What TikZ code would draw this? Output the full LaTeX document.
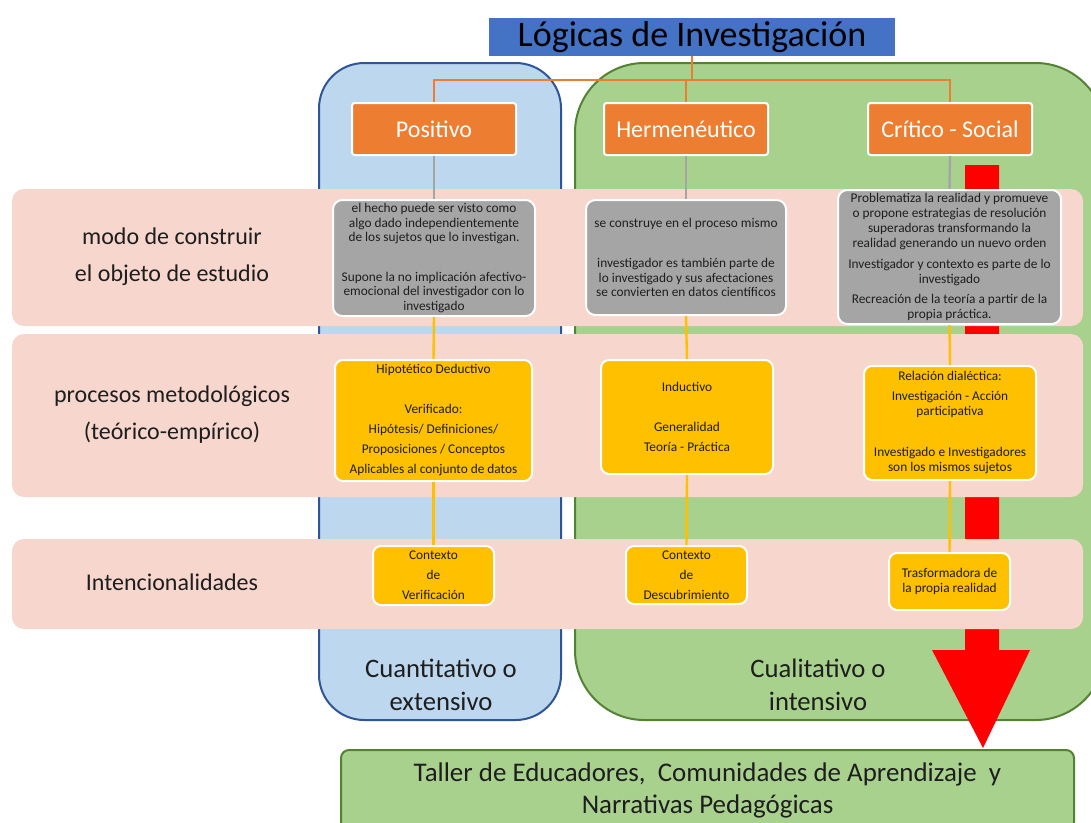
\documentclass[tikz,border=0pt]{standalone}
\usepackage{fontspec}
\setmainfont{Carlito}
\definecolor{blueFill}{HTML}{BDD7EE}
\definecolor{blueLine}{HTML}{2F5597}
\definecolor{greenFill}{HTML}{A9D18E}
\definecolor{greenLine}{HTML}{548235}
\definecolor{pinkC}{HTML}{F7D7CD}
\definecolor{orangeC}{HTML}{ED7D31}
\definecolor{grayC}{HTML}{A5A5A5}
\definecolor{yellowC}{HTML}{FFC000}
\definecolor{titleC}{HTML}{4472C4}
\definecolor{textC}{HTML}{1E1E1E}
\tikzset{
  obox/.style={draw=white, line width=1.5pt, fill=orangeC, rounded corners=2pt,
    minimum width=123pt, minimum height=39pt, inner sep=0pt, text=white,
    font=\fontsize{18}{22}\selectfont},
  gbox/.style={draw=white, line width=1.5pt, fill=grayC, rounded corners=7pt,
    align=center, inner sep=0pt, text=textC, font=\fontsize{10}{10.9}\selectfont},
  ybox/.style={draw=white, line width=1.5pt, fill=yellowC, rounded corners=6pt,
    align=center, inner sep=0pt, text=textC, font=\fontsize{10}{15}\selectfont},
  band/.style={fill=pinkC, rounded corners=9pt},
  bigtext/.style={align=center, text=textC, font=\fontsize{20}{24.75}\selectfont},
  lefttext/.style={align=center, text=textC, font=\fontsize{18}{27.75}\selectfont},
  oline/.style={draw=orangeC, line width=1.9pt},
  gline/.style={draw=grayC, line width=1.8pt},
  yline/.style={draw=yellowC, line width=1.8pt},
}
\begin{document}
\begin{tikzpicture}[x=0.75pt,y=-0.75pt]
\useasboundingbox (0,0) rectangle (1091,822);
\clip (0,0) rectangle (1091,822);
% containers
\draw[fill=blueFill, draw=blueLine, line width=1.5pt, rounded corners=34pt] (319,63) rectangle (561,720);
\draw[fill=greenFill, draw=greenLine, line width=1.5pt, rounded corners=52pt] (575,63) rectangle (1105,720);
% red arrow
\fill[red] (965,165) -- (999,165) -- (999,650) -- (1030,650) -- (983,748) -- (932,650) -- (965,650) -- cycle;
% bands
\fill[band] (12,189) rectangle (1083,326);
\fill[band] (12,334) rectangle (1083,497);
\fill[band] (12,539) rectangle (1083,629);
% left labels
\node[lefttext] (l1) at (172,256.5) {modo de construir\\el objeto de estudio};
\node[lefttext] (l2) at (172,415) {procesos metodológicos\\(teórico-empírico)};
\node[lefttext] (l3) at (172,582) {Intencionalidades};
% container labels
\node[bigtext] (cuan) at (441,684.5) {Cuantitativo o\\extensivo};
\node[bigtext] (cual) at (818,684.5) {Cualitativo o\\intensivo};
% title
\node[fill=titleC, minimum width=304.5pt, minimum height=28.5pt, inner sep=0pt,
  text=black, font=\fontsize{27}{30}\selectfont] (title) at (692,37) {Lógicas de Investigación};
% orange boxes
\node[obox] (pos) at (434,129) {Positivo};
\node[obox] (herm) at (686,129) {Hermenéutico};
\node[obox] (crit) at (950,129) {Crítico - Social};
% gray boxes
\node[gbox, minimum width=151.5pt, minimum height=87pt] (g1) at (434,258)
  {el hecho puede ser visto como\\algo dado independientemente\\de los sujetos que lo investigan.\\[18.4pt]
   Supone la no implicación afectivo-\\emocional del investigador con lo\\investigado};
\node[gbox, minimum width=150pt, minimum height=86.25pt] (g2) at (686,257.5)
  {se construye en el proceso mismo\\[19pt]
   investigador es también parte de\\lo investigado y sus afectaciones\\se convierten en datos científicos};
\node[gbox, minimum width=167.25pt, minimum height=100.5pt, font=\fontsize{10}{11.25}\selectfont] (g3) at (949.5,257)
  {Problematiza la realidad y promueve\\o propone estrategias de resolución\\superadoras transformando la\\realidad generando un nuevo orden\\[4.5pt]
   Investigador y contexto es parte de lo\\investigado\\[3.4pt]
   Recreación de la teoría a partir de la\\propia práctica.};
% yellow boxes
\node[ybox, minimum width=147.75pt, minimum height=90.75pt] (y1) at (433.5,420.5)
  {Hipotético Deductivo\\[15pt]Verificado:\\Hipótesis/ Definiciones/\\Proposiciones / Conceptos\\Aplicables al conjunto de datos};
\node[ybox, minimum width=129pt, minimum height=85.5pt] (y2) at (687,417)
  {Inductivo\\[15.5pt]Generalidad\\Teoría - Práctica};
\node[ybox, minimum width=129pt, minimum height=85.5pt, font=\fontsize{10}{11.25}\selectfont] (y3) at (950,423)
  {Relación dialéctica:\\[3.75pt]Investigación - Acción\\participativa\\[19.5pt]Investigado e Investigadores\\son los mismos sujetos};
\node[ybox, minimum width=90.75pt, minimum height=44.25pt] (b1) at (433.5,575.5)
  {Contexto\\de\\Verificación};
\node[ybox, minimum width=90.75pt, minimum height=43.5pt] (b2) at (686.5,575)
  {Contexto\\de\\Descubrimiento};
\node[ybox, minimum width=90.75pt, minimum height=42.75pt, font=\fontsize{10}{10.9}\selectfont] (b3) at (949.5,581.5)
  {Trasformadora de\\la propia realidad};
% connectors
\coordinate (hub) at (692,80);
\draw[oline] (title.south) -- (hub);
\draw[oline] (pos.north) |- (hub) -| (crit.north);
\draw[oline] (herm.north) -- (herm.north |- hub);
\draw[gline] (pos.south) -- (g1.north);
\draw[gline] (herm.south) -- (g2.north);
\draw[gline] (crit.south) -- (g3.north);
\draw[yline] (g1.south) -- (y1.north);
\draw[yline] (g2.south) -- (y2.north);
\draw[yline] (g3.south) -- (y3.north);
\draw[yline] (y1.south) -- (b1.north);
\draw[yline] (y2.south) -- (b2.north);
\draw[yline] (y3.south) -- (b3.north);
% bottom box
\node[draw=greenLine, fill=greenFill, line width=1.5pt, rounded corners=6pt,
  minimum width=549.75pt, minimum height=60pt, inner sep=0pt, align=center, text=textC,
  font=\fontsize{20.2}{24}\selectfont] (taller) at (707.5,790)
  {Taller de Educadores,\ \ Comunidades de Aprendizaje\ \ y\\Narrativas Pedagógicas};
\end{tikzpicture}
\end{document}
